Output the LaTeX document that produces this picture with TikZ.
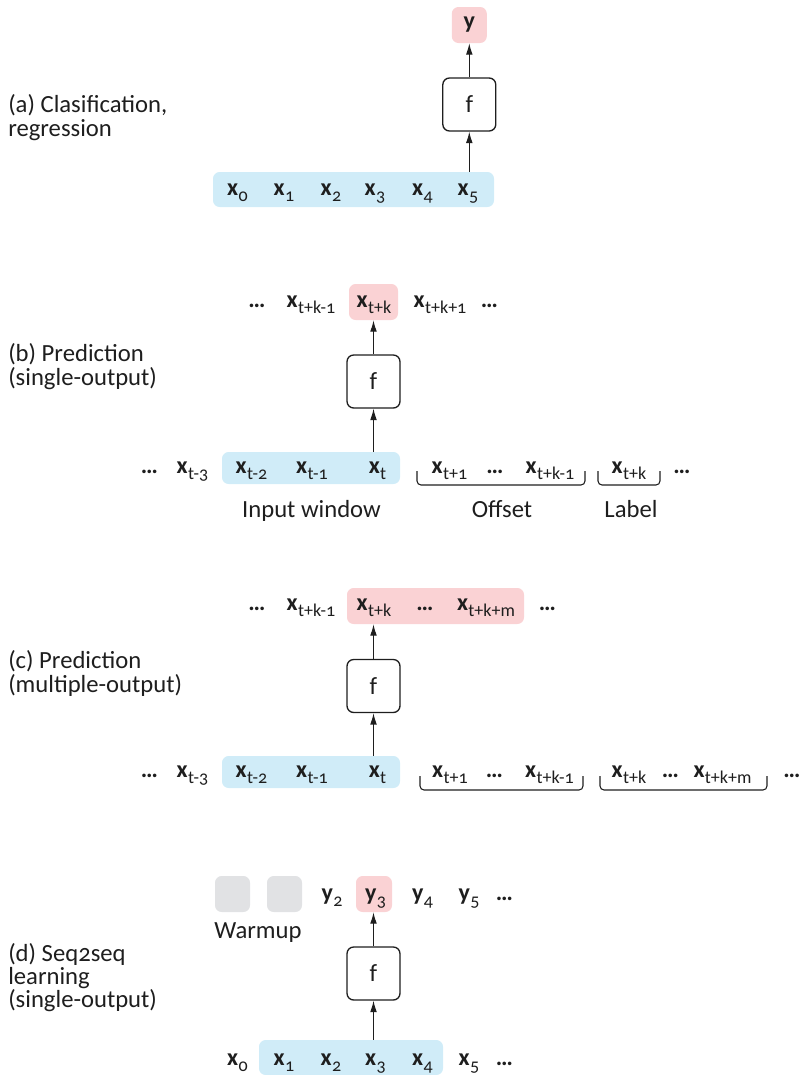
\documentclass[tikz,border=0pt]{standalone}
\usepackage{fontspec}
\setmainfont[Numbers=OldStyle]{Carlito}
\usetikzlibrary{arrows.meta}

\newdimen\pxu \pxu=0.75pt
\definecolor{winblue}{RGB}{208,236,248}
\definecolor{tgtpink}{RGB}{250,210,212}
\definecolor{warmgrey}{RGB}{225,226,228}
\definecolor{ink}{RGB}{30,30,30}

\newcommand\subfont{\fontsize{13.5pt}{13.5pt}\selectfont}
\newcommand\seqx[1]{\textbf{x}\kern0.3pt\raisebox{-4.8pt}{\subfont #1}}
\newcommand\seqy[1]{\textbf{y}\kern0.3pt\raisebox{-4.8pt}{\subfont #1}}
\newcommand\seqdots{\textbf{…}}

\tikzset{
  item/.style={anchor=base, inner sep=0pt, text=ink, font=\fontsize{18pt}{18pt}\selectfont},
  caption/.style={anchor=west, align=left, inner sep=0pt, text=ink, font=\fontsize{18.5pt}{17.5pt}\selectfont},
  fbox/.style={draw=ink, line width=1pt, rounded corners=5pt, fill=white,
    minimum width=53*\pxu, minimum height=53*\pxu, inner sep=0pt, text=ink,
    font=\fontsize{18.5pt}{18.5pt}\selectfont},
  hl/.style={rounded corners=5pt, inner sep=0pt, text=ink, font=\fontsize{18pt}{18pt}\selectfont},
  arr/.style={-{Latex[length=8.5pt,width=5pt]}, line width=0.8pt, draw=ink},
  brc/.style={draw=ink, line width=0.8pt, rounded corners=3pt},
  tag/.style={anchor=base, inner sep=0pt, text=ink, font=\fontsize{18.5pt}{18.5pt}\selectfont},
}

\begin{document}
\begin{tikzpicture}[x=0.75pt,y=-0.75pt]
\useasboundingbox (0,0) rectangle (801,1075);

% ---------- (a) classification / regression ----------
\node[caption] (capa) at (8,117.5) {(a) Clasification,\\regression};
\node[hl, fill=winblue, minimum width=281*\pxu, minimum height=35*\pxu] (bara) at (353.5,189.5) {};
\foreach \i/\cx in {0/237.5,1/284,2/331,3/375,4/422.5,5/468}
  \node[item] (xa\i) at (\cx,195) {\seqx{\i}};
\node[fbox] (fa) at (469.3,104.5) {f};
\node[hl, fill=tgtpink, minimum width=35*\pxu, minimum height=36*\pxu] (ya) at (469.3,25) {\textbf{y}};
\draw[arr] (bara.north -| fa) -- (fa.south);
\draw[arr] (fa.north) -- (ya.south);

% ---------- (b) single-output prediction ----------
\node[caption] (capb) at (8,366.5) {(b) Prediction\\(single-output)};
\node[hl, fill=tgtpink, minimum width=49*\pxu, minimum height=36*\pxu] (rb) at (373.5,302) {};
\node[item] (tb1) at (257,307) {\seqdots};
\node[item] (tb2) at (311,307) {\seqx{t+k-1}};
\node[item] (tb3) at (374,307) {\seqx{t+k}};
\node[item] (tb4) at (440,307) {\seqx{t+k+1}};
\node[item] (tb5) at (489.5,307) {\seqdots};
\node[fbox] (fb) at (373.5,381.5) {f};
\node[hl, fill=winblue, minimum width=178*\pxu, minimum height=32*\pxu] (barb) at (311,468) {};
\node[item] (bb1) at (149.5,473) {\seqdots};
\node[item] (bb2) at (192.5,473) {\seqx{t-3}};
\node[item] (bb3) at (251.5,473) {\seqx{t-2}};
\node[item] (bb4) at (312,473) {\seqx{t-1}};
\node[item] (bb5) at (377.5,473) {\seqx{t}};
\node[item] (bb6) at (449.5,473) {\seqx{t+1}};
\node[item] (bb7) at (495,473) {\seqdots};
\node[item] (bb8) at (550,473) {\seqx{t+k-1}};
\node[item] (bb9) at (629,473) {\seqx{t+k}};
\node[item] (bb10) at (682,473) {\seqdots};
\draw[brc] (417,471) |- (501,485) -| (585,471);
\draw[brc] (598,471) |- (629,485) -| (660,471);
\node[tag] (lwin) at (311.5,517) {Input window};
\node[tag] (loff) at (502,517) {Offset};
\node[tag] (llab) at (631,517) {Label};
\draw[arr] (barb.north -| fb) -- (fb.south);
\draw[arr] (fb.north) -- (rb.south);

% ---------- (c) multiple-output prediction ----------
\node[caption] (capc) at (8,673.5) {(c) Prediction\\(multiple-output)};
\node[hl, fill=tgtpink, minimum width=177*\pxu, minimum height=36*\pxu] (rc) at (435.5,606) {};
\node[item] (tc1) at (257,610) {\seqdots};
\node[item] (tc2) at (311,610) {\seqx{t+k-1}};
\node[item] (tc3) at (374,610) {\seqx{t+k}};
\node[item] (tc4) at (425,610) {\seqdots};
\node[item] (tc5) at (486,610) {\seqx{t+k+m}};
\node[item] (tc6) at (547.5,610) {\seqdots};
\node[fbox] (fc) at (373.5,686) {f};
\node[hl, fill=winblue, minimum width=178*\pxu, minimum height=32*\pxu] (barc) at (311,772) {};
\node[item] (bc1) at (149.5,777) {\seqdots};
\node[item] (bc2) at (192.5,777) {\seqx{t-3}};
\node[item] (bc3) at (251.5,777) {\seqx{t-2}};
\node[item] (bc4) at (312,777) {\seqx{t-1}};
\node[item] (bc5) at (377.5,777) {\seqx{t}};
\node[item] (bc6) at (450,777) {\seqx{t+1}};
\node[item] (bc7) at (494.5,777) {\seqdots};
\node[item] (bc8) at (549.5,777) {\seqx{t+k-1}};
\node[item] (bc9) at (629,777) {\seqx{t+k}};
\node[item] (bc10) at (670.5,777) {\seqdots};
\node[item] (bc11) at (722.5,777) {\seqx{t+k+m}};
\node[item] (bc12) at (792,777) {\seqdots};
\draw[brc] (420,776) |- (501,790) -| (583,776);
\draw[brc] (600,776) |- (683,790) -| (767,776);
\draw[arr] (barc.north -| fc) -- (fc.south);
\draw[arr] (fc.north) -- (fc.north |- rc.south);

% ---------- (d) seq2seq learning ----------
\node[caption] (capd) at (8,977.5) {(d) Seq2seq\\learning\\(single-output)};
\node[hl, fill=warmgrey, minimum width=35*\pxu, minimum height=36*\pxu] (g1) at (232.5,894) {};
\node[hl, fill=warmgrey, minimum width=35*\pxu, minimum height=36*\pxu] (g2) at (284.5,894) {};
\node[hl, fill=tgtpink, minimum width=36*\pxu, minimum height=36*\pxu] (rd) at (374,894) {};
\node[item] (td2) at (332,900) {\seqy{2}};
\node[item] (td3) at (375.5,900) {\seqy{3}};
\node[item] (td4) at (422.5,900) {\seqy{4}};
\node[item] (td5) at (469,900) {\seqy{5}};
\node[item] (td6) at (504.5,900) {\seqdots};
\node[tag] (lwarm) at (258,938) {Warmup};
\node[fbox] (fd) at (373.5,973.5) {f};
\node[hl, fill=winblue, minimum width=184*\pxu, minimum height=35*\pxu] (bard) at (351,1057.5) {};
\foreach \i/\cx in {0/237.5,1/284,2/331,3/375.5,4/422.5,5/469}
  \node[item] (xd\i) at (\cx,1065) {\seqx{\i}};
\node[item] (xd6) at (504.5,1065) {\seqdots};
\draw[arr] (bard.north -| fd) -- (fd.south);
\draw[arr] (fd.north) -- (fd.north |- rd.south);
\end{tikzpicture}
\end{document}
